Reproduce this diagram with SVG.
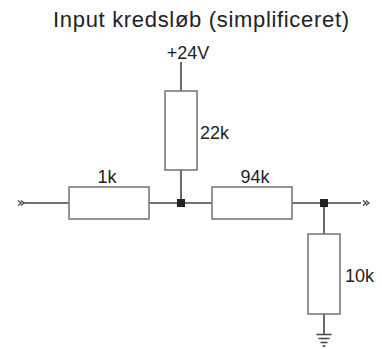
<svg xmlns="http://www.w3.org/2000/svg" width="382" height="349" viewBox="0 0 382 349">
<defs>
<style>
.w{stroke:#444;stroke-width:1.6;fill:none}
.r{stroke:#7a7a7a;stroke-width:1.6;fill:#fff}
.j{fill:#222}
.t{font-family:"Liberation Sans",Arial,sans-serif;fill:#222;font-size:18px}
.a{stroke:#444;stroke-width:1.3;fill:none}
</style>
</defs>
<rect width="382" height="349" fill="#fff"/>
<text class="t" x="53" y="27" style="font-size:22px" textLength="296">Input kredsløb (simplificeret)</text>
<g id="connectors">
<path class="w" d="M181 62V91"/>
<path class="w" d="M181 170V203"/>
<path class="w" d="M24 203H69"/>
<path class="w" d="M149 203H212"/>
<path class="w" d="M292 203H361"/>
<path class="w" d="M324 203V234"/>
<path class="w" d="M324 314V334"/>
</g>
<g id="in">
<path class="a" d="M18 200.5l3 2.5l-3 2.5M21 200.5l3 2.5l-3 2.5"/>
</g>
<g id="out">
<path class="a" d="M363 200.5l3 2.5l-3 2.5M366 200.5l3 2.5l-3 2.5"/>
</g>
<g id="vsrc">
<text class="t" x="188" y="59" text-anchor="middle">+24V</text>
</g>
<g id="r22k">
<rect class="r" x="165" y="91" width="32" height="79"/>
<text class="t" x="200" y="139">22k</text>
</g>
<g id="r1k">
<rect class="r" x="69" y="187" width="80" height="32"/>
<text class="t" x="107" y="183" text-anchor="middle">1k</text>
</g>
<g id="r94k">
<rect class="r" x="212" y="187" width="80" height="32"/>
<text class="t" x="255" y="183" text-anchor="middle">94k</text>
</g>
<g id="r10k">
<rect class="r" x="308" y="234" width="32" height="80"/>
<text class="t" x="345" y="282">10k</text>
</g>
<g id="j1"><rect class="j" x="177" y="199" width="8" height="8"/></g>
<g id="j2"><rect class="j" x="320" y="199" width="8" height="8"/></g>
<g id="gnd">
<path class="w" d="M316.5 334.5H331.5M318.5 338.5H329.5M320.5 342.5H327.5M322.5 346H325.5"/>
</g>
</svg>
